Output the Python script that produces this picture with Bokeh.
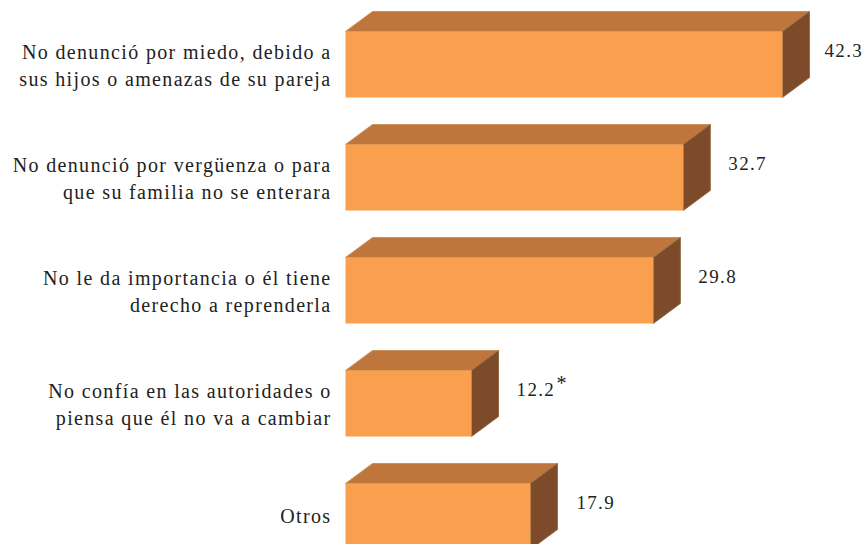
from bokeh.plotting import figure
from bokeh.models import Range1d, ColumnDataSource
from bokeh.core.properties import value
from bokeh.embed import file_html
from bokeh.resources import INLINE
import numpy as np

categories = [
    "No denunció por miedo, debido a\nsus hijos o amenazas de su pareja",
    "No denunció por vergüenza o para\nque su familia no se enterara",
    "No le da importancia o él tiene\nderecho a reprenderla",
    "No confía en las autoridades o\npiensa que él no va a cambiar",
    "Otros",
]
values = [42.3, 32.7, 29.8, 12.2, 17.9]
value_labels = ["42.3", "32.7", "29.8", "12.2", "17.9"]
notes = ["", "", "", "*", ""]

FONT = "Liberation Serif"
LS = 1.35
idx = np.arange(len(values))
v = np.array(values)
H = 66 / 113
DX = 27 / 10.33
DY = 20 / 113

p = figure(width=862, height=544, output_backend="svg", toolbar_location=None,
           x_range=Range1d(-345 / 10.33, 517 / 10.33), y_range=Range1d(480 / 113, -64 / 113),
           min_border=0, outline_line_color=None,
           x_axis_location=None, y_axis_location=None)
p.grid.visible = False

top_x = [[0, a, a + DX, DX] for a in v]
top_y = [[i - H / 2, i - H / 2, i - H / 2 - DY, i - H / 2 - DY] for i in idx]
side_x = [[a, a + DX, a + DX, a] for a in v]
side_y = [[i - H / 2, i - H / 2 - DY, i + H / 2 - DY, i + H / 2] for i in idx]

p.patches(top_x, top_y, fill_color="#BF763D", line_color="#C8935F", line_width=1)
p.patches(side_x, side_y, fill_color="#7D4B2A", line_color="#8F6A45", line_width=1)
p.hbar(y=idx, left=0, right=v, height=H, fill_color="#F99F4E", line_color=None)

# category labels: one row per line; the offset makes up for the letter spacing
rows = []
for i, c in enumerate(categories):
    lines = c.split("\n")
    for j, ln in enumerate(lines):
        rows.append((i, ln, -14 - len(ln) * LS, (j * 27 - 13) if len(lines) > 1 else -1))
cat = ColumnDataSource(dict(x=[0] * len(rows), y=[r[0] for r in rows], t=[r[1] for r in rows],
                            xo=[r[2] for r in rows], yo=[r[3] for r in rows]))
p.text(x="x", y="y", text="t", source=cat, x_offset="xo", y_offset="yo",
       text_font=value(FONT), text_font_size="20px", text_color="#222222",
       text_align="right", text_baseline="middle")

src = ColumnDataSource(dict(x=v, y=idx, t=value_labels, n=notes, xo=[42, 45, 45, 45, 46]))
p.text(x="x", y="y", text="t", source=src, x_offset="xo", y_offset=-14,
       text_font=value(FONT), text_font_size="19px", text_color="#222222",
       text_align="left", text_baseline="middle")
p.text(x="x", y="y", text="n", source=src, x_offset=85, y_offset=-21,
       text_font=value(FONT), text_font_size="20px", text_color="#222222",
       text_align="left", text_baseline="middle")

p.styles = {"letter-spacing": f"{LS}px"}
open("out.html", "w").write(file_html(p, INLINE))
